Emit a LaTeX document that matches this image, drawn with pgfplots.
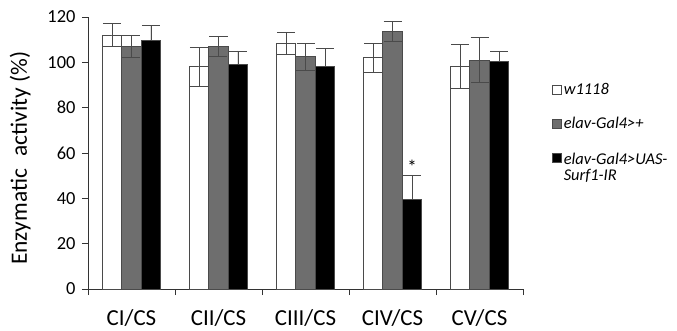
\documentclass[border=0pt]{standalone}
\usepackage{pgfplots}
\pgfplotsset{compat=1.18}
\usepackage{pgfplotstable}
\usepackage{fontspec}
\setmainfont{Carlito}
\definecolor{barg}{HTML}{6E6E6E}
\definecolor{edge}{HTML}{4A4A4A}

\pgfplotstableread{
x  y     e
0  112   5
1  98    8.5
2  108.4 5
3  102   6.5
4  98.2  9.5
}\wdata
\pgfplotstableread{
x  y     e
0  107   5
1  107   4.5
2  102.5 6
3  113.7 4.4
4  101   10
}\gdata
\pgfplotstableread{
x  y     e
0  109.5 6.7
1  99    6
2  98    8
3  39.5  10.7
4  100.3 4.7
}\bdata

\begin{document}
\begin{tikzpicture}
\useasboundingbox (-88bp,-42bp) rectangle (589bp,289bp);
\begin{axis}[
  at={(0,0)}, anchor=south west,
  scale only axis,
  width=435bp, height=272bp,
  xmin=-0.5, xmax=4.5, ymin=0, ymax=120,
  axis x line=bottom, axis y line=left,
  axis line style={-, draw=black!80, line width=0.8bp},
  ybar=0pt, bar width=19.5bp,
  xtick={0,1,2,3,4},
  xticklabels={CI/CS, CII/CS, CIII/CS, CIV/CS, CV/CS},
  minor xtick={-0.5,0.5,1.5,2.5,3.5,4.5},
  ytick={0,20,...,120},
  minor ytick={0,20,...,120},
  major tick length=0pt, minor tick length=6bp,
  tick align=outside,
  every tick/.style={draw=black!80, line width=0.8bp},
  /pgf/number format/assume math mode=true,
  yticklabel style={font=\fontsize{18.5}{22}\selectfont, xshift=-9bp},
  xticklabel style={font=\fontsize{23}{27}\selectfont, inner sep=0pt, text depth=0pt, yshift=-20bp},
  ylabel={Enzymatic\hspace{0.3em} activity (\%)},
  ylabel style={font=\fontsize{23.5}{27}\selectfont, at={(axis description cs:-0.156,0.48)}, anchor=center},
  legend style={at={(rel axis cs:1,1)}, anchor=north west, xshift=29bp, yshift=-64bp,
    draw=none, fill=none, font=\fontsize{16.5}{19}\selectfont\itshape,
    row sep=17bp, inner sep=0pt},
  legend cell align=left,
  legend image code/.code={\draw[#1, draw=edge, line width=0.6bp] (0bp,-4.5bp) rectangle (9bp,4.5bp);},
  error bars/y dir=both, error bars/y explicit,
]
\addplot[fill=white, draw=edge, line width=0.8bp,
  error bars/error bar style={draw=edge, line width=0.8bp},
  error bars/error mark options={rotate=90, mark size=9bp, line width=0.8bp, draw=edge}]
  table[x=x, y=y, y error=e] {\wdata};
\addplot[fill=barg, draw=edge, line width=0.8bp,
  error bars/error bar style={draw=edge, line width=0.8bp},
  error bars/error mark options={rotate=90, mark size=9bp, line width=0.8bp, draw=edge}]
  table[x=x, y=y, y error=e] {\gdata};
\addplot[fill=black, draw=edge, line width=0.8bp,
  error bars/y dir=plus,
  error bars/error bar style={draw=edge, line width=0.8bp},
  error bars/error mark options={rotate=90, mark size=9bp, line width=0.8bp, draw=edge}]
  table[x=x, y=y, y error=e] {\bdata};
\legend{{w1118\rule[-18bp]{0pt}{0pt}}, elav-Gal4>+, {\begin{tabular}[t]{@{}l@{}}elav-Gal4>UAS-\\[-2bp]Surf1-IR\end{tabular}}}
\node[font=\fontsize{19}{20}\selectfont] at (axis cs:3,54) [xshift=19.5bp] {*};
\end{axis}
\end{tikzpicture}
\end{document}
